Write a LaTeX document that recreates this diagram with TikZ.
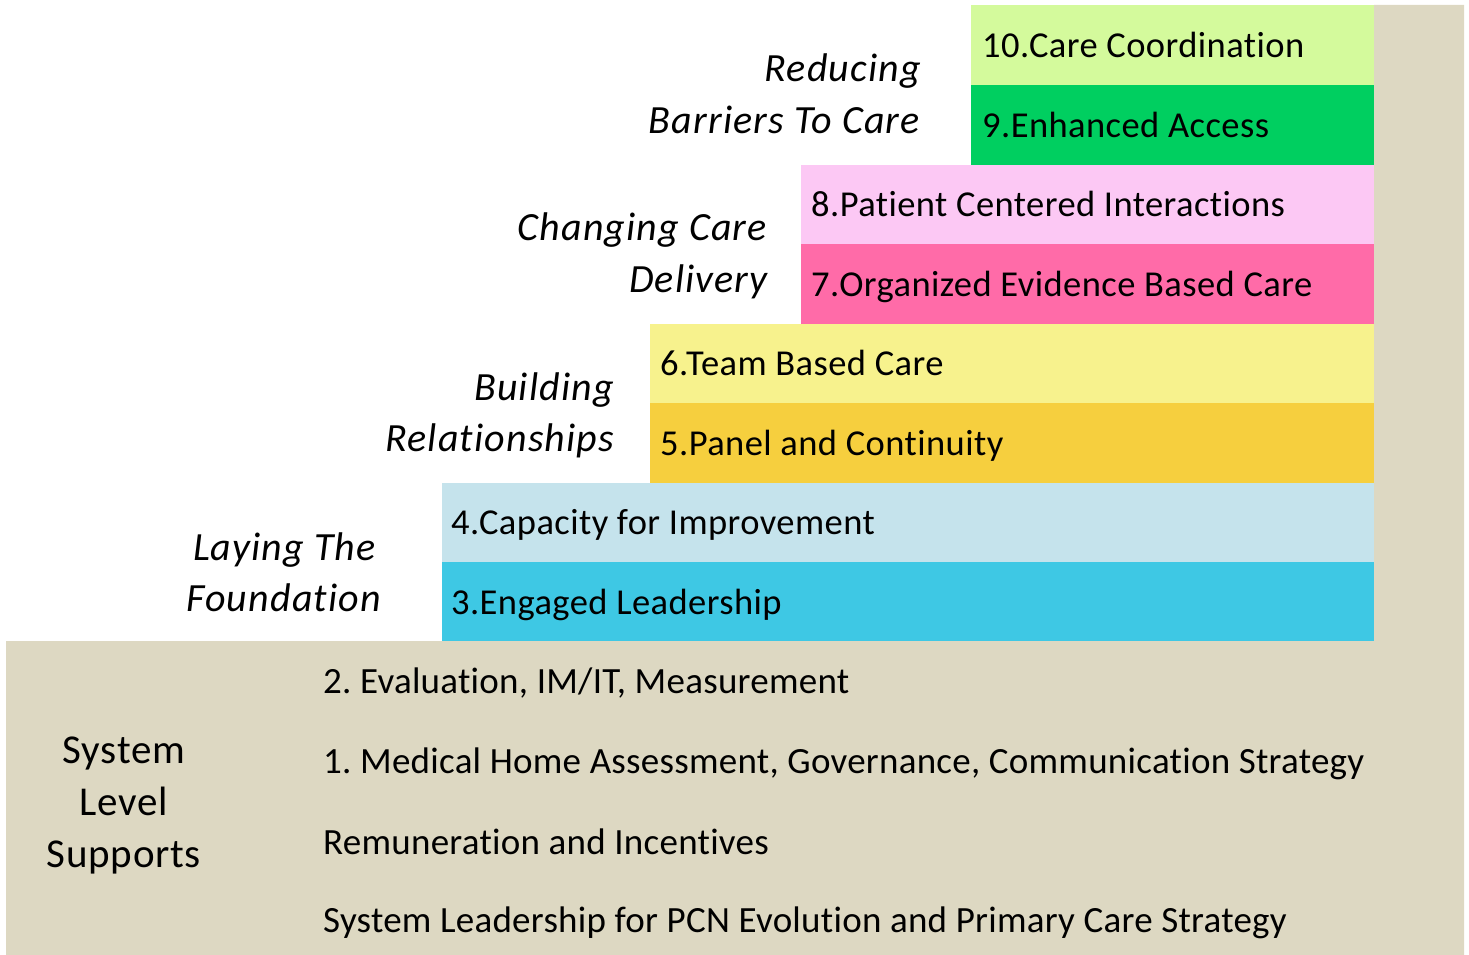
\documentclass[tikz,border=0pt]{standalone}
\usepackage{fontspec}
\setmainfont[Ligatures=NoCommon]{Carlito}
\newfontfamily\barfont[Ligatures=NoCommon,LetterSpace=1.2]{Carlito}
\newfontfamily\phasefont[Ligatures=NoCommon,LetterSpace=2.8]{Carlito}
\newfontfamily\supfont[Ligatures=NoCommon,LetterSpace=0.7]{Carlito}
\newfontfamily\sysfont[Ligatures=NoCommon,LetterSpace=1.7]{Carlito}
\frenchspacing
\definecolor{cbeige}{RGB}{221,216,194}
\definecolor{c10}{RGB}{212,250,156}
\definecolor{c9}{RGB}{0,207,96}
\definecolor{c8}{RGB}{252,200,244}
\definecolor{c7}{RGB}{255,107,168}
\definecolor{c6}{RGB}{247,242,141}
\definecolor{c5}{RGB}{246,207,62}
\definecolor{c4}{RGB}{197,227,236}
\definecolor{c3}{RGB}{62,200,228}
\tikzset{
  bar/.style={rectangle, inner sep=0pt, outer sep=0pt, anchor=north west},
  bartext/.style={inner sep=0pt, anchor=base west, font=\barfont\fontsize{36.5}{43}\selectfont},
  phase/.style={inner sep=0pt, anchor=base east, font=\phasefont\fontsize{40}{47}\selectfont\itshape},
  support/.style={inner sep=0pt, anchor=base west, font=\supfont\fontsize{37}{44}\selectfont},
  syslabel/.style={inner sep=0pt, anchor=base, font=\sysfont\fontsize{41}{49}\selectfont},
}
\begin{document}
\begin{tikzpicture}[x=1pt,y=-1pt]
\useasboundingbox (0,0) rectangle (1469,955);
% beige base
\fill[cbeige] (6,641) -- (1374,641) -- (1374,5) -- (1464,5) -- (1464,955) -- (6,955) -- cycle;
% bars
\node[bar, fill=c10, minimum width=403pt, minimum height=80pt] (b10) at (971,5) {};
\node[bar, fill=c9,  minimum width=403pt, minimum height=80pt] (b9)  at (971,85) {};
\node[bar, fill=c8,  minimum width=573pt, minimum height=79pt] (b8)  at (801,165) {};
\node[bar, fill=c7,  minimum width=573pt, minimum height=80pt] (b7)  at (801,244) {};
\node[bar, fill=c6,  minimum width=724pt, minimum height=79pt] (b6)  at (650,324) {};
\node[bar, fill=c5,  minimum width=724pt, minimum height=80pt] (b5)  at (650,403) {};
\node[bar, fill=c4,  minimum width=932pt, minimum height=79pt] (b4)  at (442,483) {};
\node[bar, fill=c3,  minimum width=932pt, minimum height=79pt] (b3)  at (442,562) {};
% bar texts
\node[bartext] (t10) at (982,58) {10.Care Coordination};
\node[bartext] (t9)  at (982,137) {9.Enhanced Access};
\node[bartext] (t8)  at (811,216) {8.Patient Centered Interactions};
\node[bartext] (t7)  at (811,296) {7.Organized Evidence Based Care};
\node[bartext] (t6)  at (660,375) {6.Team Based Care};
\node[bartext] (t5)  at (660,455) {5.Panel and Continuity};
\node[bartext] (t4)  at (451,534) {4.Capacity for Improvement};
\node[bartext] (t3)  at (451,614) {3.Engaged Leadership};
% phase labels
\node[phase] (p4a) at (921,82) {Reducing};
\node[phase] (p4b) at (920,133) {Barriers To Care};
\node[phase] (p3a) at (767,240) {Changing Care};
\node[phase] (p3b) at (768,292) {Delivery};
\node[phase] (p2a) at (614,400) {Building};
\node[phase] (p2b) at (614,451) {Relationships};
\node[phase] (p1a) at (376,560) {Laying The};
\node[phase] (p1b) at (381,611) {Foundation};
% system level supports
\node[syslabel] (s1) at (124,763) {System};
\node[syslabel] (s2) at (124,815) {Level};
\node[syslabel] (s3) at (124,867) {Supports};
\node[support] (u2) at (323,693) {2. Evaluation, IM/IT, Measurement};
\node[support] (u1) at (323,773) {1. Medical Home Assessment, Governance, Communication Strategy};
\node[support] (u3) at (323,854) {Remuneration and Incentives};
\node[support] (u4) at (323,932) {System Leadership for PCN Evolution and Primary Care Strategy};
\end{tikzpicture}
\end{document}
